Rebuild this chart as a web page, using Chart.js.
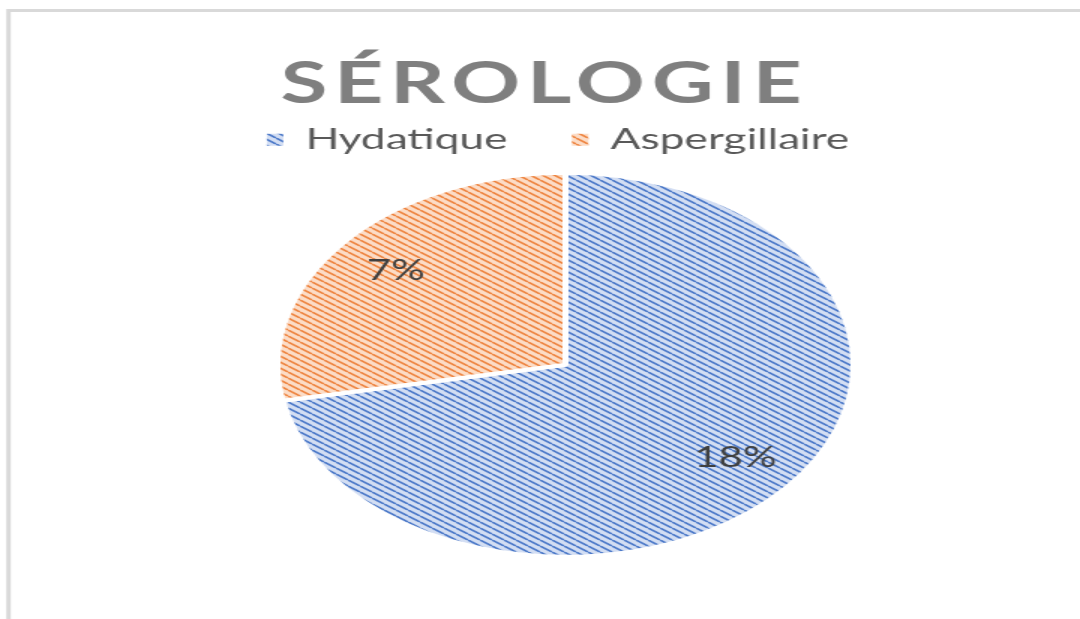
<!DOCTYPE html>
<html lang="fr">
<head>
<meta charset="utf-8">
<title>Sérologie</title>
<script src="https://cdn.jsdelivr.net/npm/chart.js@4.4.1/dist/chart.umd.min.js"></script>
<style>
  html, body { margin: 0; padding: 0; background: #fff; overflow: hidden; }
</style>
</head>
<body>
<!-- le graphique d'origine est étiré horizontalement (x1.5) -->
<canvas id="serologieChart" width="720" height="619" style="display:block;width:1080px;height:619px"></canvas>
<script>
const titre = "SÉROLOGIE";
const categories = ["Hydatique", "Aspergillaire"];
const pourcentages = [18, 7];
const couleursTrait = ["#4a78c8", "#ee8440"];
const couleursFond = ["#d3def3", "#fcdcc6"];

const LEG_PAD = 43;
const LEG_FONT = 29.5;

/**
 * Motif hachuré (diagonale descendante)
 */
function maakHachure(fond, trait) {
  const c = document.createElement("canvas");
  c.width = 8;
  c.height = 6;
  const ctx = c.getContext("2d");
  ctx.fillStyle = fond;
  ctx.fillRect(0, 0, 8, 6);
  ctx.strokeStyle = trait;
  ctx.lineWidth = 1.6;
  ctx.beginPath();
  ctx.moveTo(-8, 0); ctx.lineTo(0, 6);
  ctx.moveTo(0, 0); ctx.lineTo(8, 6);
  ctx.moveTo(8, 0); ctx.lineTo(16, 6);
  ctx.stroke();
  return ctx.createPattern(c, "repeat");
}

// Cadre gris autour du graphique + titre espacé
const cadrePlugin = {
  id: "cadre",
  afterLayout(chart) {
    // petit recalage horizontal de la légende
    chart.legend.left -= 5;
    chart.legend.right -= 5;
  },
  beforeDraw(chart) {
    const ctx = chart.ctx;
    ctx.save();
    ctx.strokeStyle = "#d9d9d9";
    ctx.lineWidth = 3;
    ctx.strokeRect(5.7, 10.5, chart.width + 20, chart.height + 20);
    ctx.restore();
  },
  afterDraw(chart) {
    const ctx = chart.ctx;
    const legMidden = chart.legend.top + LEG_PAD + LEG_FONT / 2;
    ctx.save();
    ctx.font = "bold 57px Lato";
    ctx.fillStyle = "#7f7f7f";
    ctx.textAlign = "center";
    ctx.textBaseline = "alphabetic";
    ctx.letterSpacing = "4.5px";
    ctx.fillText(titre, chart.width / 2 + 3, legMidden - 36.5);
    ctx.restore();
  },
};

// Pourcentages dans les parts
const etiquettesPlugin = {
  id: "etiquettes",
  afterDatasetsDraw(chart) {
    const ctx = chart.ctx;
    const meta = chart.getDatasetMeta(0);
    ctx.save();
    ctx.font = "28px Lato";
    ctx.fillStyle = "#404040";
    ctx.textAlign = "center";
    ctx.textBaseline = "middle";
    meta.data.forEach((arc, i) => {
      const { x, y, startAngle, endAngle, outerRadius } = arc.getProps(
        ["x", "y", "startAngle", "endAngle", "outerRadius"], true);
      const mid = (startAngle + endAngle) / 2;
      const r = outerRadius * 0.765;
      ctx.fillText(pourcentages[i] + "%", x + Math.cos(mid) * r, y + Math.sin(mid) * r);
    });
    ctx.restore();
  },
};

const canvas = document.getElementById("serologieChart");
const ctx = canvas.getContext("2d");
const motifs = categories.map((_, i) => maakHachure(couleursFond[i], couleursTrait[i]));

new Chart(ctx, {
  type: "pie",
  data: {
    labels: categories,
    datasets: [
      {
        data: pourcentages,
        backgroundColor: motifs,
        borderColor: "#ffffff",
        borderWidth: 4,
        radius: 192,
      },
    ],
  },
  options: {
    responsive: false,
    animation: false,
    layout: { padding: { top: 82, bottom: 54, left: 34, right: 0 } },
    plugins: {
      title: { display: false },
      tooltip: { enabled: false },
      legend: {
        display: true,
        position: "top",
        labels: {
          color: "#595959",
          font: { family: "Lato", size: LEG_FONT },
          boxWidth: 11,
          boxHeight: 12,
          padding: LEG_PAD,
          generateLabels(chart) {
            const items = Chart.overrides.pie.plugins.legend.labels.generateLabels(chart);
            return items.map((it) => ({ ...it, lineWidth: 0 }));
          },
        },
      },
    },
  },
  plugins: [cadrePlugin, etiquettesPlugin],
});
</script>
</body>
</html>
